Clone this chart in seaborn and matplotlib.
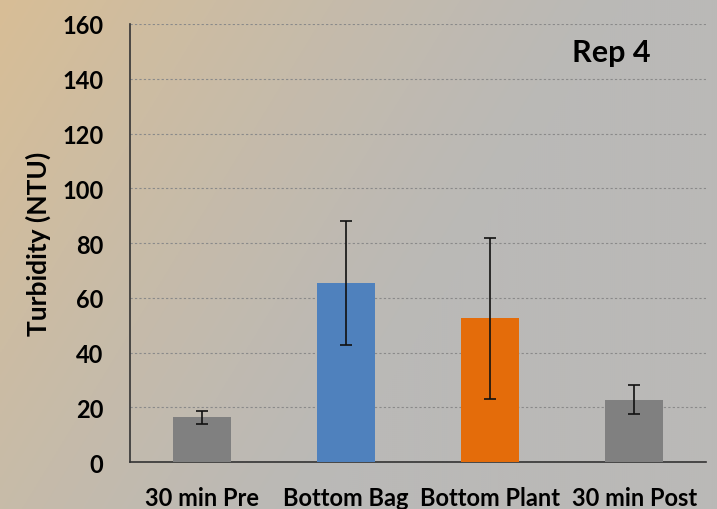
import matplotlib
matplotlib.use('Agg')
import matplotlib.pyplot as plt
import seaborn as sns
import pandas as pd
import numpy as np

# data
categories = ['30 min Pre', 'Bottom Bag', 'Bottom Plant', '30 min Post']
turbidity = [16.3, 65.3, 52.6, 22.8]
errors = [2.3, 22.7, 29.4, 5.2]
bar_colors = ['#808080', '#4F81BD', '#E46C0A', '#808080']

df = pd.DataFrame({'Sample': categories, 'Turbidity': turbidity})

sns.set_style('white')
plt.rcParams['font.family'] = ['Lato', 'DejaVu Sans']
plt.rcParams['text.color'] = '#000000'
plt.rcParams['axes.labelcolor'] = '#000000'
plt.rcParams['xtick.color'] = '#000000'
plt.rcParams['ytick.color'] = '#000000'

fig = plt.figure(figsize=(7.17, 5.10), dpi=100)

# background gradient: tan at top-left fading to grey
bg = fig.add_axes([0, 0, 1, 1], zorder=-10)
h, w = 255, 359
yy, xx = np.mgrid[0:1:h * 1j, 0:1:w * 1j]
weight = np.clip(1 - (xx * 1.15 + yy * 0.5), 0, 1) ** 1.2
tan = np.array([216, 190, 150]) / 255
grey = np.array([186, 185, 183]) / 255
img = grey + (tan - grey) * weight[..., None]
bg.imshow(img, aspect='auto', extent=[0, 1, 0, 1], origin='upper')
bg.axis('off')

ax = fig.add_axes([0.181, 0.092, 0.804, 0.859])
ax.patch.set_alpha(0)

sns.barplot(data=df, x='Sample', y='Turbidity', hue='Sample',
            palette=bar_colors, width=0.4, saturation=1, linewidth=0,
            legend=False, ax=ax, zorder=3)
ax.errorbar(x=np.arange(len(categories)), y=turbidity, yerr=errors,
            fmt='none', ecolor='#111111', elinewidth=1.2, capsize=4,
            capthick=1.2, zorder=4)

ax.set_ylim(0, 160)
ax.set_xlim(-0.5, 3.5)
ax.set_yticks(range(0, 161, 20))
ax.yaxis.grid(True, linestyle=(0, (2, 2)), color='#8a8a8a', linewidth=0.8, zorder=0)
ax.set_axisbelow(True)

for side in ['top', 'right']:
    ax.spines[side].set_visible(False)
for side in ['left', 'bottom']:
    ax.spines[side].set_color('#333333')
    ax.spines[side].set_linewidth(1.2)

# category boundary ticks on the x axis
ax.set_xticks(np.arange(-0.5, 4, 1), minor=True)
ax.tick_params(axis='x', which='minor', length=6, width=1.2, color='#333333', direction='out')
ax.tick_params(axis='x', which='major', length=0, pad=17)
ax.tick_params(axis='y', length=6, width=1.2, color='#333333', direction='out', pad=13)

ax.set_xticklabels(categories, fontsize=17, fontweight='bold')
for lab in ax.get_yticklabels():
    lab.set_fontsize(17)
    lab.set_fontweight('bold')

ax.set_xlabel('')
ax.set_ylabel('Turbidity (NTU)', fontsize=19, fontweight='bold', labelpad=8)

ax.text(0.835, 0.937, 'Rep 4', transform=ax.transAxes, fontsize=22,
        fontweight='bold', ha='center', va='center')

fig.savefig('out.png', dpi=100)
